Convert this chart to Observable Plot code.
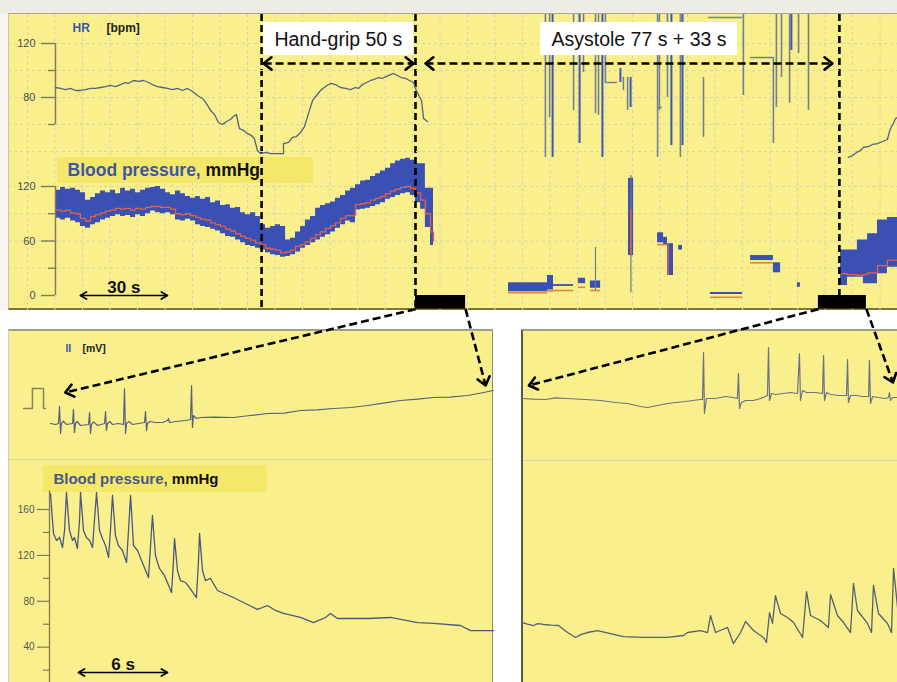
<!DOCTYPE html>
<html>
<head>
<meta charset="utf-8">
<script src="https://cdn.jsdelivr.net/npm/d3@7"></script>
<script src="https://cdn.jsdelivr.net/npm/@observablehq/plot@0.6"></script>
<style>
html,body{margin:0;padding:0;background:#ffffff;}
#root{position:relative;width:897px;height:682px;overflow:hidden;background:#ffffff;}
.bg{position:absolute;box-sizing:border-box;}
</style>
</head>
<body>
<div id="root"></div>
<script>
// ================= DATA =================
// --- top panel: heart rate (bpm) vs time (s) ---
const hrPre = [[0,87.4],[1.7,86.7],[3.3,85.9],[5,86.7],[6.7,85.2],[8.3,85.2],[10,85.9],[11.7,86.7],[13.3,86.7],[15,87.4],[16.7,88.1],[18.3,88.9],[20,88.1],[21.7,89.6],[23.3,91.1],[24.3,90.4],[26,92.6],[27.7,91.9],[29.3,92.6],[31,91.1],[32.3,89.6],[34,88.1],[35.7,87.4],[37.3,86.7],[39,85.9],[40.7,86.7],[42.3,85.2],[44,86.7],[45.7,84.4],[47.3,81.5],[49,79.3],[50.3,75.6],[51.7,70.4],[53,67.4],[54.3,61.5],[55.7,60],[57,62.2],[58.3,63.7],[59.3,65.9],[60.3,67.4],[61.3,57],[62.7,55.6],[64,53.3],[65.3,51.9],[66.3,49.6],[67.3,40.7],[68.3,38.5],[70.3,39.3],[71.7,38.5],[76,38.5],[76,45.9],[77.7,46.7],[79,50.4],[80.3,51.1],[81.7,54.1],[83,58.5],[84.3,68.1],[85.7,77.8],[87,81.5],[88.3,85.2],[90,88.1],[91.7,90.4],[93.3,89.6],[95,87.4],[96.7,86.7],[98.3,85.9],[100,87.4],[101,86.7],[102.3,89.6],[103.7,91.1],[105,92.6],[106,93.3],[107.7,94.8],[109,94.1],[110.3,95.6],[111.7,97],[112.7,97.8],[114,96.3],[115.3,94.8],[116.7,94.1],[118,92.6],[119.3,91.1],[120.3,85.2],[121.3,80.7],[122,77.8],[122.7,64.4],[124,62.2]];
const hrPost = [[264.3,35.6],[265.7,37],[267,39.3],[268.3,40.7],[269.3,43],[271,43.7],[272.3,45.2],[274,45.9],[275.7,47.4],[277.3,48.9],[278,54.8],[278.7,58.5],[279.3,60.7],[280,64.4],[280.7,65.2]];
// artefactual HR readings during asystole: [t, top bpm, low bpm, kind]
const hrSpikes = [[163.3,150,35.6,"g"],[164.7,150,65.2,"g"],[165.7,150,35.6,"b"],[172.7,150,70.4,"g"],[174.7,150,45.9,"b"],[176,150,98.5,"g"],[180,150,68.1,"g"],[181,150,66.7,"g"],[182.3,150,35.6,"b"],[183.3,150,91.1,"g"],[188.3,101.5,91.1,"b"],[189.3,95,85.2,"g"],[190.7,95,70.4,"g"],[191.7,94.8,72.6,"b"],[200.7,150,35.6,"g"],[201.3,150,70.4,"g"],[204,150,80,"g"],[205.3,150,44.4,"b"],[208.3,150,35.6,"g"],[209,150,44.4,"b"],[216,94.8,50.4,"g"],[229.3,150,81.5,"g"],[239.3,109.6,45.9,"g"],[240.3,150,72.6,"g"],[242,150,94.8,"g"],[244.7,150,75.6,"g"],[245.3,150,114.8,"b"],[247.7,150,112.6,"g"],[251,150,70.4,"g"]];
const hrLinks = [[183.3,187.3,91.1],[174.7,176.3,105.2],[217.7,229,139.3],[231.7,239.3,109.6],[200.7,202.3,72.6]];

// --- top panel: blood pressure (mmHg) ---
const bpT = [0,1.7,3.3,5,6.7,8.3,10,11.7,13.3,15,16.7,18.3,20,21.7,23.3,25,26.7,28.3,30,31.7,33.3,35,36.7,38.3,40,41.7,43.3,45,46.7,48.3,50,51.7,53.3,55,56.7,58.3,60,61.7,63.3,65,66.7,68.3,70,71.7,73.3,75,76.7,78.3,80,81.7,83.3,85,86.7,88.3,90,91.7,93.3,95,96.7,98.3,100,101.7,103.3,105,106.7,108.3,110,111.7,113.3,115,116.7,118.3,120,121.7,123.3,125,126];
const bpSys = [116,119,117,118,116,113,105,108,112,115,113,116,112,118,115,117,113,116,118,119,120,117,113,111,115,112,109,107,109,106,108,102,104,99,100,96,97,91,89,91,87,78,74,76,78,76,61,63,70,76,83,87,96,99,101,103,107,110,115,118,122,126,127,131,134,137,140,145,148,150,151,149,145,145,118,118,118];
const bpDia = [85,83,85,82,80,76,74,78,80,83,85,87,89,87,88,86,89,87,90,93,91,90,91,89,83,82,84,82,78,76,75,73,71,68,65,64,61,58,55,54,52,50,47,45,44,42,43,45,48,52,55,58,61,64,67,70,74,78,82,80,94,95,96,98,100,102,106,108,110,112,113,110,102,95,75,55,50];
const bpMean = [94,93,94,91,90,85,82,87,89,91,93,94,96,95,96,94,96,95,97,98,98,97,97,95,90,89,90,88,86,84,83,80,78,76,73,71,68,65,63,61,58,56,52,51,50,47,48,50,54,56,59,63,67,70,74,77,80,85,88,88,100,101,102,105,107,109,112,115,117,119,120,118,113,105,90,70,60];
// fragments recorded during asystole: [t1, t2, sys, dia]
const asysRects = [[151,164,14,4],[164,166,22,6],[166,172.7,12,10],[174.3,176.7,19,13],[178.3,181.7,16,8],[191,192.7,129,44],[200.7,202.7,69,58],[202.7,204,64,55],[204,206,57,22],[207.7,209,55,50],[218.3,229,3.3,1.1],[231.7,239.3,44,38.5],[239.3,241.7,36,25],[247.3,248.3,14,9]];
const asysMean = [[151,164,3],[164,166,5],[166,172.7,5.5],[174.3,176.7,9],[178.3,181.7,5.5],[200.7,204,56],[218.3,229,-2],[231.7,239.3,36]];
const asysThin = [[180,5.5,53],[191.8,3,132]];
const asysMeanV = [[191.8,43,94],[204.2,22,56]];
const postT = [261.7,264,267.3,269.3,270.7,274,277.3,280.7];
const postSys = [50,50,61,61,68,83,86,86];
const postDia = [11,20,20,13,13,24,31,36];
const postMean = [24,23,22,23,25,33,39,41];

// ticks, grid, events
const hrTicksMajor = [120, 80], hrTicksMinor = [100, 60];
const bpTicksMajor = [120, 60, 0], bpTicksMinor = [90, 30];
const bTicksMajor = [160, 120, 80, 40], bTicksMinor = [140, 100, 60, 20];
const hrGrid = [120, 100, 80, 60, 40];
const bpGrid = [120, 90, 60, 30];
const events = [68.7, 120, 261.3];          // hand-grip start, asystole start, asystole end (s)
const zoomBars = [[120, 136.7], [254.3, 270.3]];

// --- bottom-left panel (s, mV / mmHg) ---
const calPulse = [[-1.82,0.85],[-1.22,0.85],[-1.22,1.85],[-0.47,1.85],[-0.47,0.85],[-0.34,0.85]];
const ecgLeft = [[0,0.1],[0.34,0.05],[0.54,0.1],[0.61,0.95],[0.68,-0.4],[0.74,0.1],[0.86,0.22],[1.08,0.05],[1.49,0.1],[1.55,0.8],[1.62,-0.35],[1.69,0.1],[1.8,0.2],[2.03,0],[2.57,0.05],[2.64,0.65],[2.7,-0.4],[2.77,0.05],[2.9,0.18],[3.18,0],[3.65,0.1],[3.72,0.7],[3.78,-0.25],[3.85,0.1],[4.0,0.2],[4.19,0.05],[4.59,0.1],[4.93,0.05],[5,1.85],[5.07,-0.4],[5.14,0.1],[5.3,0.2],[5.54,0.05],[5.95,0.1],[6.35,0.15],[6.42,0.7],[6.49,-0.25],[6.55,0.1],[6.7,0.2],[7.09,0.15],[7.57,0.15],[7.91,0.25],[7.97,0.35],[8.04,0.15],[8.45,0.2],[9.12,0.25],[9.46,0.3],[9.53,2.0],[9.59,-0.1],[9.66,0.5],[9.86,0.35],[10.14,0.4],[11,0.42],[12.36,0.4],[13.5,0.5],[14.66,0.6],[15.8,0.62],[16.89,0.75],[18,0.78],[19.12,0.85],[20.3,0.9],[21.42,1.0],[22.5,1.12],[23.65,1.25],[24.8,1.32],[25.88,1.4],[27,1.42],[28.18,1.5],[29.26,1.65],[29.93,1.75]];
const bpLeft = [[0,173.9],[0.2,139.1],[0.41,133],[0.61,135.6],[0.81,126.9],[0.95,141.7],[1.08,174.8],[1.28,141.7],[1.49,133],[1.62,135.6],[1.82,126],[1.96,150.4],[2.03,174.8],[2.23,141.7],[2.43,135.6],[2.64,133],[2.84,126.9],[2.97,150.4],[3.11,174.8],[3.31,141.7],[3.51,134.7],[3.72,128.6],[3.92,118.2],[4.05,141.7],[4.19,172.2],[4.39,137.3],[4.59,128.6],[4.86,124.3],[5.14,113.8],[5.27,141.7],[5.41,172.2],[5.61,128.6],[5.88,124.3],[6.15,115.6],[6.62,100.7],[6.76,128.6],[6.89,154.8],[7.09,119.9],[7.36,108.6],[7.7,102.5],[8.18,87.7],[8.31,115.6],[8.38,134.7],[8.58,106.8],[8.78,98.1],[9.12,96.4],[9.53,89.4],[9.86,83.3],[10,115.6],[10.07,139.1],[10.27,106.8],[10.47,98.1],[10.81,99.9],[11.28,89.4],[12.36,83.3],[13.18,78.1],[13.99,72.9],[14.32,74.6],[14.66,76.3],[15.2,72],[15.74,69.4],[16.89,65.9],[17.77,61.5],[18.24,64.1],[18.58,65.9],[18.92,69.4],[19.39,65],[21.42,65],[22.97,65.9],[24.8,61.5],[25.88,60.7],[27.7,58.9],[28.38,54.5],[29.93,54.5]];

// --- bottom-right panel ---
const ecgRight = [[0.07,1.35],[0.8,1.32],[1.62,1.3],[2.3,1.38],[3.04,1.35],[4.32,1.3],[5.34,1.25],[6.35,1.15],[7.16,1.1],[8.04,0.95],[8.51,0.9],[9.19,1.0],[9.86,1.1],[11.08,1.2],[12.09,1.3],[12.23,1.3],[12.3,3.65],[12.36,0.6],[12.5,1.35],[13.11,1.35],[13.78,1.45],[14.32,1.4],[14.59,1.35],[14.66,2.6],[14.73,0.85],[14.86,1.15],[15.14,1.25],[15.68,1.25],[16.15,1.35],[16.62,1.5],[16.69,3.9],[16.76,1.25],[16.89,1.6],[17.16,1.55],[17.7,1.6],[18.18,1.65],[18.65,1.6],[18.78,3.6],[18.85,1.25],[18.99,1.75],[19.26,1.65],[19.86,1.65],[20.34,1.6],[20.41,3.5],[20.47,1.25],[20.61,1.65],[20.88,1.55],[21.42,1.5],[21.96,1.5],[22.03,3.3],[22.09,1.15],[22.23,1.5],[22.64,1.5],[23.04,1.45],[23.45,1.45],[23.51,3.25],[23.58,1.1],[23.72,1.45],[24.12,1.4],[24.59,1.35],[24.8,1.4],[24.86,1.65],[24.93,1.25],[25.07,1.4],[25.41,1.4]];
const bpRight = [[0.07,61.5],[0.4,60.2],[0.81,58.9],[1.1,60.5],[1.49,59.8],[2.0,59.2],[2.5,58.9],[3.11,52.8],[3.65,48.5],[4.0,51],[4.46,52.8],[5.14,54.5],[6.01,51.9],[6.89,49.3],[8.24,48.5],[9.86,48.5],[10.95,50.2],[11.22,52.8],[12.09,54.5],[12.57,52.8],[12.77,67.6],[13.11,52.8],[13.5,55],[13.92,57.2],[14.32,43.2],[14.8,52.8],[15.14,62.4],[15.68,54.5],[16.35,48.5],[16.55,44.1],[16.76,70.2],[16.96,60.7],[17.16,85],[17.5,69.4],[17.97,65.9],[18.38,61.5],[18.99,48.5],[19.26,88.5],[19.53,67.6],[20.2,63.3],[20.74,57.2],[20.88,85.9],[21.35,67.6],[21.76,61.5],[22.23,52.8],[22.43,95.5],[22.7,72],[23.38,60.7],[23.65,52.8],[23.78,93.8],[24.12,69.4],[24.73,60.7],[25,52.8],[25.14,108.6],[25.41,74.6]];

// ================= STYLE =================
const W = 897, H = 682;
const FONT = "'Liberation Sans', Arial, Helvetica, sans-serif";
const YELLOW = "#f9f08d";
const BOX_YELLOW = "#f4e86a";
const BLUE = "#3a50b2";
const RED = "#e2604c";
const ORANGE = "#ee8036";
const TRACE = "#56617f";
const GRID = "#d8d4b2";
const AXIS = "#837a52";
const LABEL_BLUE = "#3f56a8";

// ================= SCALES (shared by Plot and the connectors) =================
const sxTop = d3.scaleLinear([0, 280], [55, 895]);
const syBP  = d3.scaleLinear([0, 120], [295, 186]);
const syHR  = d3.scaleLinear([80, 120], [97, 43]);
const sxBL  = d3.scaleLinear([0, 30], [50, 494]);
const sxBR  = d3.scaleLinear([0, 25.4], [521, 896.92]);
const syECG = d3.scaleLinear([0, 1], [425, 405]);
const syBBP = d3.scaleLinear([40, 160], [646.7, 509]);

const root = document.getElementById("root");
function bg(css) { const d = document.createElement("div"); d.className = "bg"; Object.assign(d.style, css); root.appendChild(d); }
bg({left:"0px", top:"0px", width:"897px", height:"14px", background:"#edece5"});
bg({left:"0px", top:"14px", width:"8px", height:"296px", background:"#f5f4ef"});
bg({left:"8px", top:"13px", width:"889px", height:"297px", background:YELLOW, borderTop:"1px solid #aba88f", borderLeft:"1px solid #c9c6a6", borderBottom:"2px solid #7c7734"});
bg({left:"8px", top:"329px", width:"485px", height:"353px", background:YELLOW, borderTop:"2px solid #a09e90", borderLeft:"1px solid #d2cfb2", borderRight:"1px solid #8f8d80"});
bg({left:"521px", top:"329px", width:"376px", height:"353px", background:YELLOW, borderTop:"2px solid #a09e90", borderLeft:"2px solid #5a5848"});
bg({left:"9px", top:"459px", width:"483px", height:"1px", background:"#ddd7a6"});
bg({left:"523px", top:"460px", width:"374px", height:"1px", background:"#d9d6bc"});

function panel(m, sx, sy, marks) {
  const p = Plot.plot({
    width: W, height: H,
    marginLeft: m[0], marginTop: m[1], marginRight: m[2], marginBottom: m[3],
    x: {domain: sx.domain(), range: sx.range(), axis: null},
    y: {domain: sy.domain(), range: sy.range(), axis: null},
    style: {background: "transparent", overflow: "visible", position: "absolute", left: "0px", top: "0px"},
    marks
  });
  root.appendChild(p);
  return p;
}
const ctx = document.createElement("canvas").getContext("2d");
function textWidth(s, font) { ctx.font = font; return ctx.measureText(s).width; }

const TOP_M = [8, 14, 0, H - 310];
const BL_M = [8, 329, W - 493, 0];
const BR_M = [521, 329, 0, 0];

// grid spacing for the top panel recorder grid (s)
const gridT = d3.range(-9.33, 281, 9.167);

// ---------- top panel: blood pressure layer ----------
const bpRows = bpT.map((t, i) => ({t, sys: bpSys[i], dia: bpDia[i], mean: bpMean[i]}));
const postRows = postT.map((t, i) => ({t, sys: postSys[i], dia: postDia[i], mean: postMean[i]}));
const bpLabelTop = [{x1: 0.67, x2: 86, y1: 123.3, y2: 152, tx: 4, ty: 137.2}];
const fsBP = 17.5;
const wBlood = textWidth("Blood pressure, ", `bold ${fsBP}px ${FONT}`);
const tickMaj = 14 / 3, tickMin = 7 / 3;

panel(TOP_M, sxTop, syBP, [
  Plot.ruleX(gridT, {stroke: GRID, strokeWidth: 1, strokeDasharray: "3,3"}),
  Plot.ruleY(bpGrid, {stroke: GRID, strokeWidth: 1, strokeDasharray: "3,3"}),
  Plot.rect(bpLabelTop, {x1: "x1", x2: "x2", y1: "y1", y2: "y2", fill: BOX_YELLOW}),
  Plot.areaY(bpRows, {x: "t", y1: "dia", y2: "sys", curve: "step-after", fill: BLUE}),
  Plot.line(bpRows, {x: "t", y: "mean", curve: "step-after", stroke: RED, strokeWidth: 1.3}),
  Plot.rect(asysRects, {x1: d => d[0], x2: d => d[1], y1: d => d[3], y2: d => d[2], fill: BLUE}),
  Plot.ruleY(asysMean, {y: d => d[2], x1: d => d[0], x2: d => d[1], stroke: ORANGE, strokeWidth: 1.6}),
  Plot.ruleX(asysThin, {x: d => d[0], y1: d => d[1], y2: d => d[2], stroke: "#6d7a86", strokeWidth: 1.2}),
  Plot.ruleX(asysMeanV, {x: d => d[0], y1: d => d[1], y2: d => d[2], stroke: RED, strokeWidth: 1.5}),
  Plot.areaY(postRows, {x: "t", y1: "dia", y2: "sys", curve: "step-after", fill: BLUE}),
  Plot.line(postRows, {x: "t", y: "mean", curve: "step-after", stroke: RED, strokeWidth: 1.3}),
  // axis
  Plot.ruleX([0], {y1: () => 0, y2: () => 120, stroke: AXIS, strokeWidth: 1.4}),
  Plot.ruleY(bpTicksMajor, {x1: () => -tickMaj, x2: () => 0, stroke: AXIS, strokeWidth: 1.4}),
  Plot.ruleY(bpTicksMinor, {x1: () => -tickMin, x2: () => 0, stroke: AXIS, strokeWidth: 1.4}),
  Plot.text(bpTicksMajor, {x: () => 0, y: d => d, text: d => String(d), textAnchor: "end", dx: -20, fontSize: 11, fill: "#4e4e4e", fontFamily: FONT}),
  // label
  Plot.text(bpLabelTop, {x: "tx", y: "ty", text: () => "Blood pressure,", textAnchor: "start", fontSize: fsBP, fontWeight: "bold", fill: LABEL_BLUE, fontFamily: FONT}),
  Plot.text(bpLabelTop, {x: "tx", y: "ty", text: () => "mmHg", textAnchor: "start", dx: wBlood, fontSize: fsBP, fontWeight: "bold", fill: "#111", fontFamily: FONT}),
  Plot.text([{t: 22.8, v: 9.2}], {x: "t", y: "v", text: () => "30 s", fontSize: 17, fontWeight: "bold", fill: "#111", fontFamily: FONT}),
  // zoom windows + event markers
  Plot.rect(zoomBars, {x1: d => d[0], x2: d => d[1], y1: () => -15, y2: () => 0, fill: "#000"}),
  Plot.ruleX(events, {stroke: "#000", strokeWidth: 2.6, strokeDasharray: "7,4"})
]);

// ---------- top panel: heart-rate layer ----------
const arrowBpm = 105.2;
const hrLabels = [{x: 5.67, y: 131.1, text: "HR", fill: LABEL_BLUE}, {x: 17, y: 131.1, text: "[bpm]", fill: "#222"}];
const eventBoxes = [
  {x1: 69.3, x2: 119.3, y1: 111.1, y2: 135.6, text: "Hand-grip 50 s"},
  {x1: 161.7, x2: 227.3, y1: 111.1, y2: 135.6, text: "Asystole 77 s + 33 s"}
];
panel(TOP_M, sxTop, syHR, [
  Plot.ruleY(hrGrid, {stroke: GRID, strokeWidth: 1, strokeDasharray: "3,3"}),
  Plot.ruleX([0], {y1: () => 60, y2: () => 120, stroke: AXIS, strokeWidth: 1.4}),
  Plot.ruleY(hrTicksMajor, {x1: () => -tickMaj, x2: () => 0, stroke: AXIS, strokeWidth: 1.4}),
  Plot.ruleY(hrTicksMinor, {x1: () => -tickMin, x2: () => 0, stroke: AXIS, strokeWidth: 1.4}),
  Plot.text(hrTicksMajor, {x: () => 0, y: d => d, text: d => String(d), textAnchor: "end", dx: -20, fontSize: 11, fill: "#4e4e4e", fontFamily: FONT}),
  Plot.text(hrLabels, {x: "x", y: "y", text: "text", fill: d => d.fill, textAnchor: "start", fontSize: 12, fontWeight: "bold", fontFamily: FONT}),
  Plot.line(hrPre, {x: d => d[0], y: d => d[1], stroke: TRACE, strokeWidth: 1.3, clip: true}),
  Plot.line(hrPost, {x: d => d[0], y: d => d[1], stroke: TRACE, strokeWidth: 1.3, clip: true}),
  Plot.ruleX(hrSpikes.filter(d => d[3] === "g"), {x: d => d[0], y1: d => d[1], y2: d => d[2], stroke: "#74808f", strokeWidth: 1.6, clip: true}),
  Plot.ruleX(hrSpikes.filter(d => d[3] === "b"), {x: d => d[0], y1: d => d[1], y2: d => d[2], stroke: "#3c58b6", strokeWidth: 2, clip: true}),
  Plot.ruleY(hrLinks, {y: d => d[2], x1: d => d[0], x2: d => d[1], stroke: "#74808f", strokeWidth: 1.5, clip: true}),
  Plot.rect(eventBoxes, {x1: "x1", x2: "x2", y1: "y1", y2: "y2", fill: "#ffffff"}),
  Plot.text(eventBoxes, {x: d => (d.x1 + d.x2) / 2, y: () => 122.6, text: "text", fontSize: 19.5, fill: "#111", fontFamily: FONT})
]);

// ---------- bottom-left panel ----------
const iiLabels = [{x: 1.01, y: 3.85, text: "II", fill: LABEL_BLUE}, {x: 2.16, y: 3.85, text: "[mV]", fill: "#222"}];
panel(BL_M, sxBL, syECG, [
  Plot.text(iiLabels, {x: "x", y: "y", text: "text", fill: d => d.fill, textAnchor: "start", fontSize: 10.5, fontWeight: "bold", fontFamily: FONT}),
  Plot.line(calPulse, {x: d => d[0], y: d => d[1], stroke: "#8a8258", strokeWidth: 1.5}),
  Plot.line(ecgLeft, {x: d => d[0], y: d => d[1], stroke: TRACE, strokeWidth: 1.2})
]);
const fsB = 15;
const wBloodB = textWidth("Blood pressure, ", `bold ${fsB}px ${FONT}`);
const bpLabelB = [{x1: -0.47, x2: 14.66, y1: 174.8, y2: 198.3, tx: 0.2, ty: 186.8}];
const tickMajB = 12 / 14.8, tickMinB = 6 / 14.8;
panel(BL_M, sxBL, syBBP, [
  Plot.rect(bpLabelB, {x1: "x1", x2: "x2", y1: "y1", y2: "y2", fill: BOX_YELLOW}),
  Plot.ruleX([0], {y1: () => 0, y2: () => 176, dx: -1, stroke: AXIS, strokeWidth: 1.3}),
  Plot.ruleY(bTicksMajor, {x1: () => -tickMajB, x2: () => 0, dx: -1, stroke: AXIS, strokeWidth: 1.2}),
  Plot.ruleY(bTicksMinor, {x1: () => -tickMinB, x2: () => 0, dx: -1, stroke: AXIS, strokeWidth: 1.2}),
  Plot.text(bTicksMajor, {x: () => 0, y: d => d, text: d => String(d), textAnchor: "end", dx: -16, fontSize: 10, fill: "#555", fontFamily: FONT}),
  Plot.line(bpLeft, {x: d => d[0], y: d => d[1], stroke: "#4c577e", strokeWidth: 1.3}),
  Plot.text(bpLabelB, {x: "tx", y: "ty", text: () => "Blood pressure,", textAnchor: "start", fontSize: fsB, fontWeight: "bold", fill: "#4a5690", fontFamily: FONT}),
  Plot.text(bpLabelB, {x: "tx", y: "ty", text: () => "mmHg", textAnchor: "start", dx: wBloodB, fontSize: fsB, fontWeight: "bold", fill: "#111", fontFamily: FONT}),
  Plot.text([{t: 4.9, v: 25.3}], {x: "t", y: "v", text: () => "6 s", fontSize: 17, fontWeight: "bold", fill: "#111", fontFamily: FONT})
]);

// ---------- bottom-right panel ----------
panel(BR_M, sxBR, syECG, [
  Plot.line(ecgRight, {x: d => d[0], y: d => d[1], stroke: "#6a7285", strokeWidth: 1.2})
]);
panel(BR_M, sxBR, syBBP, [
  Plot.line(bpRight, {x: d => d[0], y: d => d[1], stroke: "#575e72", strokeWidth: 1.3})
]);

// ---------- overlay: annotation arrows positioned through the panels' scales ----------
function chevron(id, tip, from, len, ang) {
  const dx = from[0] - tip[0], dy = from[1] - tip[1], L = Math.hypot(dx, dy);
  const ux = dx / L, uy = dy / L, a = ang * Math.PI / 180;
  const c = Math.cos(a), s = Math.sin(a);
  return [
    {id, x: tip[0] + (ux * c - uy * s) * len, y: tip[1] + (ux * s + uy * c) * len},
    {id, x: tip[0], y: tip[1]},
    {id, x: tip[0] + (ux * c + uy * s) * len, y: tip[1] + (-ux * s + uy * c) * len}
  ];
}
const yArrow = syHR(arrowBpm);
const barBottom = syBP(-15);
const dashed = [
  {a: [sxTop(events[0]) + 2, yArrow], b: [sxTop(events[1]) - 2, yArrow], both: true},
  {a: [sxTop(events[1]) + 10, yArrow], b: [sxTop(events[2]) - 7, yArrow], both: true},
  {a: [sxTop(zoomBars[0][0]), barBottom], b: [sxBL(1.0), syECG(1.65)]},
  {a: [sxTop(zoomBars[0][1]), barBottom], b: [sxBL(29.4), syECG(2.0)]},
  {a: [sxTop(zoomBars[1][0]), barBottom], b: [sxBR(0.5), syECG(2.0)]},
  {a: [sxTop(zoomBars[1][1]), barBottom], b: [sxBR(25.1), syECG(2.15)]}
];
const solid = [
  {a: [sxTop(8.3), syBP(0)], b: [sxTop(37.3), syBP(0)], both: true},
  {a: [sxBL(1.89), syBBP(17.9)], b: [sxBL(7.9), syBBP(17.9)], both: true}
];
const headsOf = (arr, pre, len, ang) => arr.flatMap((d, i) => [
  ...chevron(pre + i + "b", d.b, d.a, len, ang),
  ...(d.both ? chevron(pre + i + "a", d.a, d.b, len, ang) : [])
]);
const overlay = Plot.plot({
  width: W, height: H, margin: 0,
  x: {type: "identity", axis: null}, y: {type: "identity", axis: null},
  style: {background: "transparent", overflow: "visible", position: "absolute", left: "0px", top: "0px"},
  marks: [
    Plot.link(dashed, {x1: d => d.a[0], y1: d => d.a[1], x2: d => d.b[0], y2: d => d.b[1], stroke: "#000", strokeWidth: 2.6, strokeDasharray: "8,4"}),
    Plot.line(headsOf(dashed, "d", 10, 38), {x: "x", y: "y", z: "id", stroke: "#000", strokeWidth: 2.6}),
    Plot.link(solid, {x1: d => d.a[0], y1: d => d.a[1], x2: d => d.b[0], y2: d => d.b[1], stroke: "#000", strokeWidth: 1.6}),
    Plot.line(headsOf(solid, "s", 7, 30), {x: "x", y: "y", z: "id", stroke: "#000", strokeWidth: 1.8})
  ]
});
root.appendChild(overlay);
</script>
</body>
</html>
